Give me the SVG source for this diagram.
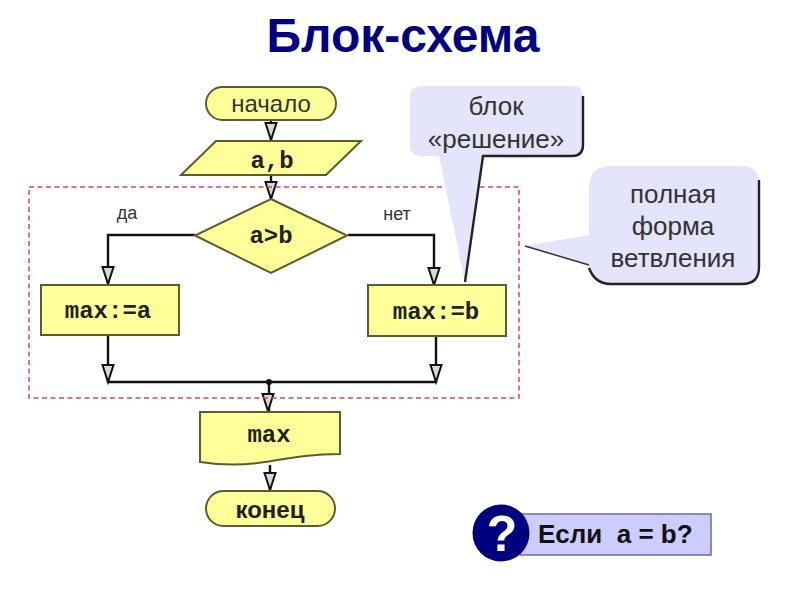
<svg xmlns="http://www.w3.org/2000/svg" width="800" height="600" viewBox="0 0 800 600">
<style>
.b{fill:#ffff99;stroke:#5c5c2e;stroke-width:2}
.c{fill:none;stroke:#111;stroke-width:2.4}
.m{font-family:"Liberation Mono",monospace;font-weight:bold;font-size:24px;fill:#222;text-anchor:middle}
.s{font-family:"Liberation Sans",sans-serif;fill:#333;text-anchor:middle}
.t{font-size:26px}
.l{font-size:18px}
.cal{fill:#e4e4fa}
.sh{fill:none;stroke:#222;stroke-width:2.4}
</style>
<defs>
<path id="ah" d="M-5.500 -17L5.500 -17L0 0Z" fill="#d8d8d8" stroke="#111" stroke-width="2"/>
</defs>
<rect width="800" height="600" fill="#fff"/>
<text x="403" y="52" font-family="Liberation Sans,sans-serif" font-weight="bold" font-size="48" fill="#000080" text-anchor="middle">Блок-схема</text>

<g id="connectors">
<path class="c" d="M271 120V140M271 176V199M195 235H108V284M348 235H434V285M108 336V382H436V336M269 382V412M270 465V490"/>
<circle cx="269" cy="382" r="3" fill="#111"/>
<use href="#ah" x="271" y="140"/>
<use href="#ah" x="271" y="199"/>
<use href="#ah" x="108" y="284"/>
<use href="#ah" x="434" y="285"/>
<use href="#ah" x="108" y="382"/>
<use href="#ah" x="436" y="382"/>
<use href="#ah" x="268" y="411"/>
<use href="#ah" x="270" y="490"/>
</g>

<rect id="frame" x="29" y="187" width="490" height="211" fill="none" stroke="#d9455f" stroke-width="1.500" stroke-dasharray="5 3.500"/>

<g id="start"><rect class="b" x="206" y="87" width="130" height="33" rx="16.500"/><text class="s" x="271" y="112" font-size="24">начало</text></g>
<g id="input"><path class="b" d="M216 141H361L326 175H181Z"/><text class="m" x="272" y="168">a,b</text></g>
<g id="decision"><path class="b" d="M271 199L347 235.500L271 273L195 235.500Z"/><text class="m" x="271" y="243">a&gt;b</text></g>
<text id="yes" class="s l" x="127" y="219">да</text>
<text id="no" class="s l" x="397" y="220">нет</text>
<g id="assign-a"><rect class="b" x="41" y="285" width="138" height="50"/><text class="m" x="108" y="318">max:=a</text></g>
<g id="assign-b"><rect class="b" x="368" y="285" width="138" height="51"/><text class="m" x="436" y="319">max:=b</text></g>
<g id="output"><path class="b" d="M200 412H340V454C310 454 290 458 265 462C240 466 220 465 200 462Z"/><text class="m" x="269" y="442">max</text></g>
<g id="end"><rect class="b" x="206" y="491" width="129" height="35" rx="17.500"/><text x="270" y="518" font-family="Liberation Sans,sans-serif" font-weight="bold" font-size="24" fill="#222" text-anchor="middle">конец</text></g>

<g id="callout-decision">
<path class="cal" d="M422 86H572Q583 86 583 97V145Q583 156 572 156H483L465 282L439 156H422Q410 156 410 145V97Q410 86 422 86Z"/>
<path class="sh" d="M583 96V145Q583 156 572 156H483L465 282"/>
<text class="s t" x="496" y="115">блок</text>
<text class="s t" x="496" y="148">«решение»</text>
</g>
<g id="callout-form">
<path class="cal" d="M611 166H742Q759 166 759 183V267Q759 284 742 284H611Q589 284 589 265L525 246L589 235V188Q589 166 611 166Z"/>
<path class="sh" d="M759 180V267Q759 284 742 284H611Q595 284 589 268"/>
<path d="M589 265L525 246" fill="none" stroke="#333" stroke-width="1.500"/>
<text class="s t" x="673" y="203">полная</text>
<text class="s t" x="673" y="235">форма</text>
<text class="s t" x="673" y="267">ветвления</text>
</g>

<g id="question">
<rect x="520" y="514" width="191" height="41" fill="#ccccff" stroke="#6c6c9c" stroke-width="1.500"/>
<circle cx="501" cy="533" r="28.500" fill="#000080"/>
<text x="502" y="551" font-family="Liberation Sans,sans-serif" font-weight="bold" font-size="50" fill="#fff" text-anchor="middle">?</text>
<text x="538" y="543" font-family="Liberation Sans,sans-serif" font-weight="bold" font-size="26" fill="#111" xml:space="preserve">Если  a = b?</text>
</g>
</svg>
